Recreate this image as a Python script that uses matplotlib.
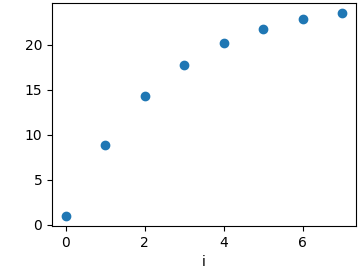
import numpy as np
import matplotlib.pyplot as plt

i_vals = [0, 1, 2, 3, 4, 5, 6, 7]
y_vals = [1.0, 8.9, 14.3, 17.8, 20.2, 21.8, 22.9, 23.5]

fig = plt.figure(figsize=(3.58, 2.78), dpi=100)
ax = fig.add_axes([0.145, 0.187, 0.849, 0.802])
ax.scatter(i_vals, y_vals)
ax.set_xlabel('i')
ax.set_xticks([0, 2, 4, 6])
ax.set_yticks([0, 5, 10, 15, 20])
fig.savefig('out.png', dpi=100)
